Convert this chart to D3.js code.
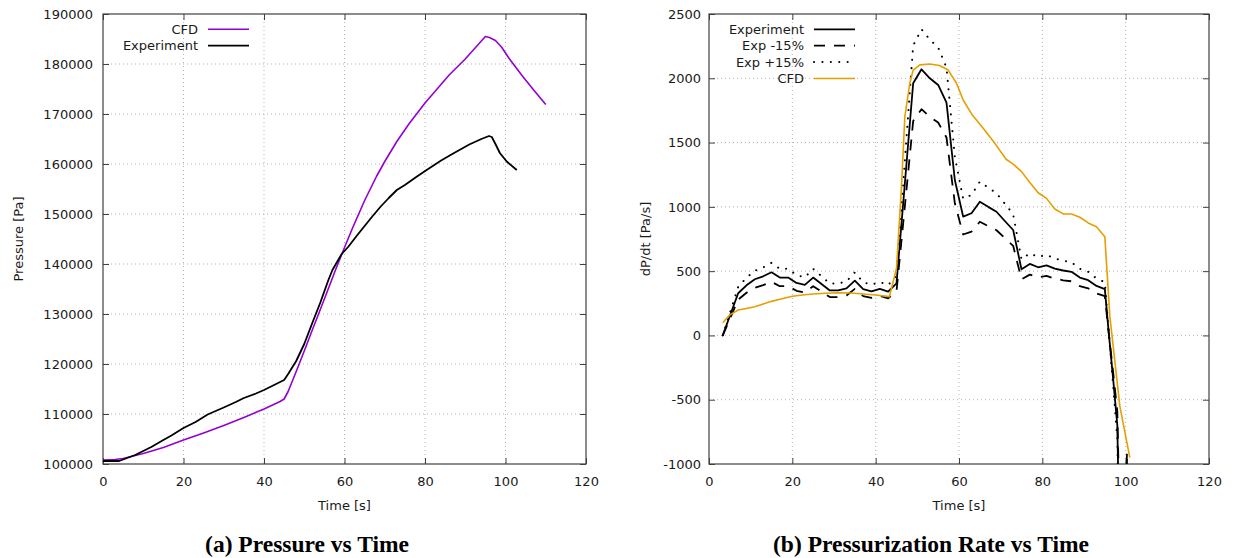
<!DOCTYPE html>
<html>
<head>
<meta charset="utf-8">
<script src="https://cdn.jsdelivr.net/npm/d3@7"></script>
<style>
    body { margin: 0; background: #fff; }
    svg { display: block; }
</style>
</head>
<body>
<div id="chart" style="width:1233px;height:558px;"></div>
<script>
// (a) pressure vs time
var cfdTime = [0, 3, 5, 8, 10, 15, 20, 25, 30, 35, 40, 44, 45, 46, 48, 50, 52, 55, 58, 60, 62, 65, 68, 70, 73, 76, 80, 83, 86, 90, 93, 95, 96, 97.5, 99, 101, 104, 107, 110];
var cfdPressure = [100800, 100900, 101100, 101700, 102100, 103300, 104800, 106200, 107700, 109300, 111000, 112500, 113000, 114500, 118500, 122600, 126800, 133000, 139300, 143300, 147200, 152700, 157600, 160500, 164500, 168000, 172200, 175000, 177800, 181000, 183700, 185500, 185300, 184700, 183400, 181000, 177800, 174800, 171900];

var expTime = [0, 4, 6, 8, 10, 12, 15, 17, 20, 23, 26, 30, 33, 35, 38, 40, 43, 45, 46, 48, 50, 52, 54, 56, 57, 58, 59.3, 61, 63, 65, 67, 69, 71, 73, 75, 78, 80.4, 84, 87, 91, 94, 95.9, 96.6, 97.5, 98.6, 100.3, 102.8];
var expPressure = [100600, 100600, 101200, 101800, 102600, 103400, 104800, 105700, 107200, 108400, 109900, 111300, 112400, 113200, 114100, 114800, 116000, 116800, 118000, 120600, 124000, 128200, 132300, 136800, 138800, 140200, 142000, 143500, 145600, 147600, 149600, 151500, 153200, 154800, 155800, 157500, 158800, 160700, 162100, 163900, 165000, 165600, 165400, 164000, 162200, 160500, 158800];

// (b) pressurization rate vs time
var rateTime = [3.3, 7, 9, 11, 13, 15, 17, 19, 21, 23, 25, 27, 29, 31, 33, 35, 37, 39, 41, 43, 45, 47, 49, 51, 53, 55, 57, 59, 61, 63, 65, 67, 69, 71, 73, 75, 77, 79, 81, 83, 85, 87, 89, 91, 93, 95, 96, 97, 98, 99, 100.3];
var rateExp = [0, 328, 390, 437, 460, 491, 450, 450, 408, 393, 450, 400, 350, 350, 366, 426, 360, 343, 362, 340, 405, 1180, 1961, 2070, 2000, 1948, 1810, 1209, 924, 950, 1040, 1000, 962, 890, 820, 514, 556, 530, 545, 520, 505, 495, 450, 430, 385, 360, 0, -340, -700, -2500, -920];
var rateExpMinus = [0, 279, 332, 371, 391, 417, 383, 383, 347, 334, 383, 340, 298, 298, 311, 362, 306, 292, 308, 289, 344, 1003, 1667, 1760, 1700, 1656, 1539, 1028, 785, 808, 884, 850, 818, 757, 697, 437, 473, 451, 463, 442, 429, 421, 383, 366, 327, 306, 0, -289, -595, -2125, -960];
var rateExpPlus = [0, 377, 449, 503, 529, 565, 518, 518, 469, 452, 518, 460, 403, 403, 421, 490, 414, 394, 416, 391, 466, 1357, 2255, 2381, 2300, 2240, 2082, 1390, 1063, 1093, 1196, 1150, 1106, 1024, 943, 591, 639, 610, 627, 598, 581, 569, 518, 495, 443, 414, 0, -391, -805, -2875, -1058];

var cfdRateTime = [3.3, 5, 7, 9, 11, 13, 15, 17, 20, 23, 25, 28, 31, 34, 37, 40, 43.3, 45, 46.2, 47, 48.2, 49, 50.6, 53, 55.3, 57.4, 59.4, 61, 63.2, 65.8, 68.6, 71.3, 73, 75, 77, 79, 81, 83, 85, 87, 89, 91, 93, 95, 96.2, 98.6, 101];
var cfdRate = [99, 160, 198, 210, 223, 245, 265, 282, 305, 316, 322, 328, 332, 330, 322, 315, 302, 522, 1157, 1701, 1961, 2064, 2104, 2111, 2100, 2064, 1961, 1831, 1714, 1611, 1494, 1370, 1333, 1274, 1190, 1110, 1066, 983, 945, 945, 919, 875, 846, 768, 150, -550, -950];

var timeTicks = [0, 20, 40, 60, 80, 100, 120];
var pressureTicks = [100000, 110000, 120000, 130000, 140000, 150000, 160000, 170000, 180000, 190000];
var rateTicks = [-1000, -500, 0, 500, 1000, 1500, 2000, 2500];

var font = "DejaVu Sans, Verdana, sans-serif";

function zip(xs, ys) {
    return xs.map(function (x, i) { return [x, ys[i]]; });
}

function linePlot({ svg, name, left, top, width, height, yDomain, yTicks, yLabel, yLabelX, yPad, series, legendRight, caption, captionX } = {}) {
    var x_scale = d3.scaleLinear().domain([0, 120]).range([0, width]);
    var y_scale = d3.scaleLinear().domain(yDomain).range([height, 0]);

    var g = svg.append("g")
        .attr("transform", "translate(" + left + "," + top + ")");

    // grid
    g.append("g").selectAll("line")
        .data(timeTicks.slice(1, -1))
        .join("line")
        .attr("x1", d => x_scale(d)).attr("x2", d => x_scale(d))
        .attr("y1", 0).attr("y2", height)
        .attr("stroke", "#b4b4b4").attr("stroke-width", 1)
        .attr("stroke-dasharray", "1,3");
    g.append("g").selectAll("line")
        .data(yTicks.slice(1, -1))
        .join("line")
        .attr("x1", 0).attr("x2", width)
        .attr("y1", d => y_scale(d)).attr("y2", d => y_scale(d))
        .attr("stroke", "#b4b4b4").attr("stroke-width", 1)
        .attr("stroke-dasharray", "1,3");

    // axes, ticks pointing inside on all four sides
    var fmt = d => String(d);   // plain hyphen for negatives, like gnuplot
    var axes = [
        [d3.axisBottom(x_scale).tickValues(timeTicks).tickFormat(fmt).tickPadding(13), "translate(0," + height + ")"],
        [d3.axisTop(x_scale).tickValues(timeTicks).tickFormat(""), "translate(0,0)"],
        [d3.axisLeft(y_scale).tickValues(yTicks).tickFormat(fmt).tickPadding(yPad), "translate(0,0)"],
        [d3.axisRight(y_scale).tickValues(yTicks).tickFormat(""), "translate(" + width + ",0)"]
    ];
    axes.forEach(function (a) {
        var ax = g.append("g")
            .attr("transform", a[1])
            .call(a[0].tickSize(-6).tickSizeOuter(0))
            .attr("font-family", font)
            .attr("font-size", 13);
        ax.select(".domain").remove();
        ax.selectAll(".tick line").attr("stroke", "#404040");
        ax.selectAll(".tick text").attr("fill", "#1a1a1a");
    });

    g.append("rect")
        .attr("width", width).attr("height", height)
        .attr("fill", "none").attr("stroke", "#404040").attr("stroke-width", 1.2);

    // lines
    g.append("clipPath").attr("id", "clip-" + name)
        .append("rect").attr("width", width).attr("height", height);

    var line = d3.line()
        .x(d => x_scale(d[0]))
        .y(d => y_scale(d[1]));

    g.append("g").attr("clip-path", "url(#clip-" + name + ")")
        .selectAll("path")
        .data(series)
        .join("path")
        .attr("d", d => line(zip(d.x, d.y)))
        .attr("fill", "none")
        .attr("stroke", d => d.color)
        .attr("stroke-width", d => d.width)
        .attr("stroke-dasharray", d => d.dash)
        .attr("stroke-linecap", d => d.cap)
        .attr("stroke-linejoin", "round");

    // legend
    var legend = g.append("g")
        .attr("transform", "translate(" + legendRight + ",15.3)");
    var item = legend.selectAll("g")
        .data(series.slice().sort((a, b) => a.order - b.order))
        .join("g")
        .attr("transform", (d, i) => "translate(0," + i * 16.4 + ")");
    item.append("text")
        .attr("x", 0).attr("y", 4.7)
        .attr("text-anchor", "end")
        .attr("font-family", font).attr("font-size", 13)
        .attr("fill", "#1a1a1a")
        .text(d => d.label);
    item.append("line")
        .attr("x1", 10).attr("x2", 51)
        .attr("stroke", d => d.color)
        .attr("stroke-width", d => d.width)
        .attr("stroke-dasharray", d => d.dash)
        .attr("stroke-linecap", d => d.cap);

    // axis titles
    g.append("text")
        .attr("x", width / 2).attr("y", height + 46)
        .attr("text-anchor", "middle")
        .attr("font-family", font).attr("font-size", 13)
        .attr("fill", "#1a1a1a")
        .text("Time [s]");
    svg.append("text")
        .attr("transform", "translate(" + yLabelX + "," + (top + height / 2) + ") rotate(-90)")
        .attr("text-anchor", "middle")
        .attr("font-family", font).attr("font-size", 13)
        .attr("fill", "#1a1a1a")
        .text(yLabel);

    svg.append("text")
        .attr("x", captionX).attr("y", 552)
        .attr("text-anchor", "middle")
        .attr("font-family", "Liberation Serif, Times New Roman, serif")
        .attr("font-weight", "bold")
        .attr("font-size", 23.5)
        .attr("fill", "#000")
        .text(caption);
}

var svg = d3.select("#chart")
    .append("svg")
    .attr("width", 1233)
    .attr("height", 558);

linePlot({
    svg: svg, name: "a",
    left: 103, top: 14, width: 483, height: 450,
    yDomain: [100000, 190000], yTicks: pressureTicks,
    yLabel: "Pressure [Pa]", yLabelX: 23, yPad: 10,
    legendRight: 95,
    caption: "(a) Pressure vs Time", captionX: 307,
    series: [
        { label: "CFD", x: cfdTime, y: cfdPressure, color: "#9400d3", width: 1.6, dash: null, cap: "butt", order: 0 },
        { label: "Experiment", x: expTime, y: expPressure, color: "#000", width: 1.8, dash: null, cap: "butt", order: 1 }
    ]
});

linePlot({
    svg: svg, name: "b",
    left: 709, top: 14, width: 500, height: 450,
    yDomain: [-1000, 2500], yTicks: rateTicks,
    yLabel: "dP/dt [Pa/s]", yLabelX: 650, yPad: 8,
    legendRight: 95,
    caption: "(b) Pressurization Rate vs Time", captionX: 931,
    series: [
        { label: "Experiment", x: rateTime, y: rateExp, color: "#000", width: 1.8, dash: null, cap: "butt", order: 0 },
        { label: "Exp -15%", x: rateTime, y: rateExpMinus, color: "#000", width: 1.8, dash: "11,9", cap: "butt", order: 1 },
        { label: "Exp +15%", x: rateTime, y: rateExpPlus, color: "#000", width: 2, dash: "0.1,8.3", cap: "round", order: 2 },
        { label: "CFD", x: cfdRateTime, y: cfdRate, color: "#e69f00", width: 1.6, dash: null, cap: "butt", order: 3 }
    ]
});
</script>
</body>
</html>
